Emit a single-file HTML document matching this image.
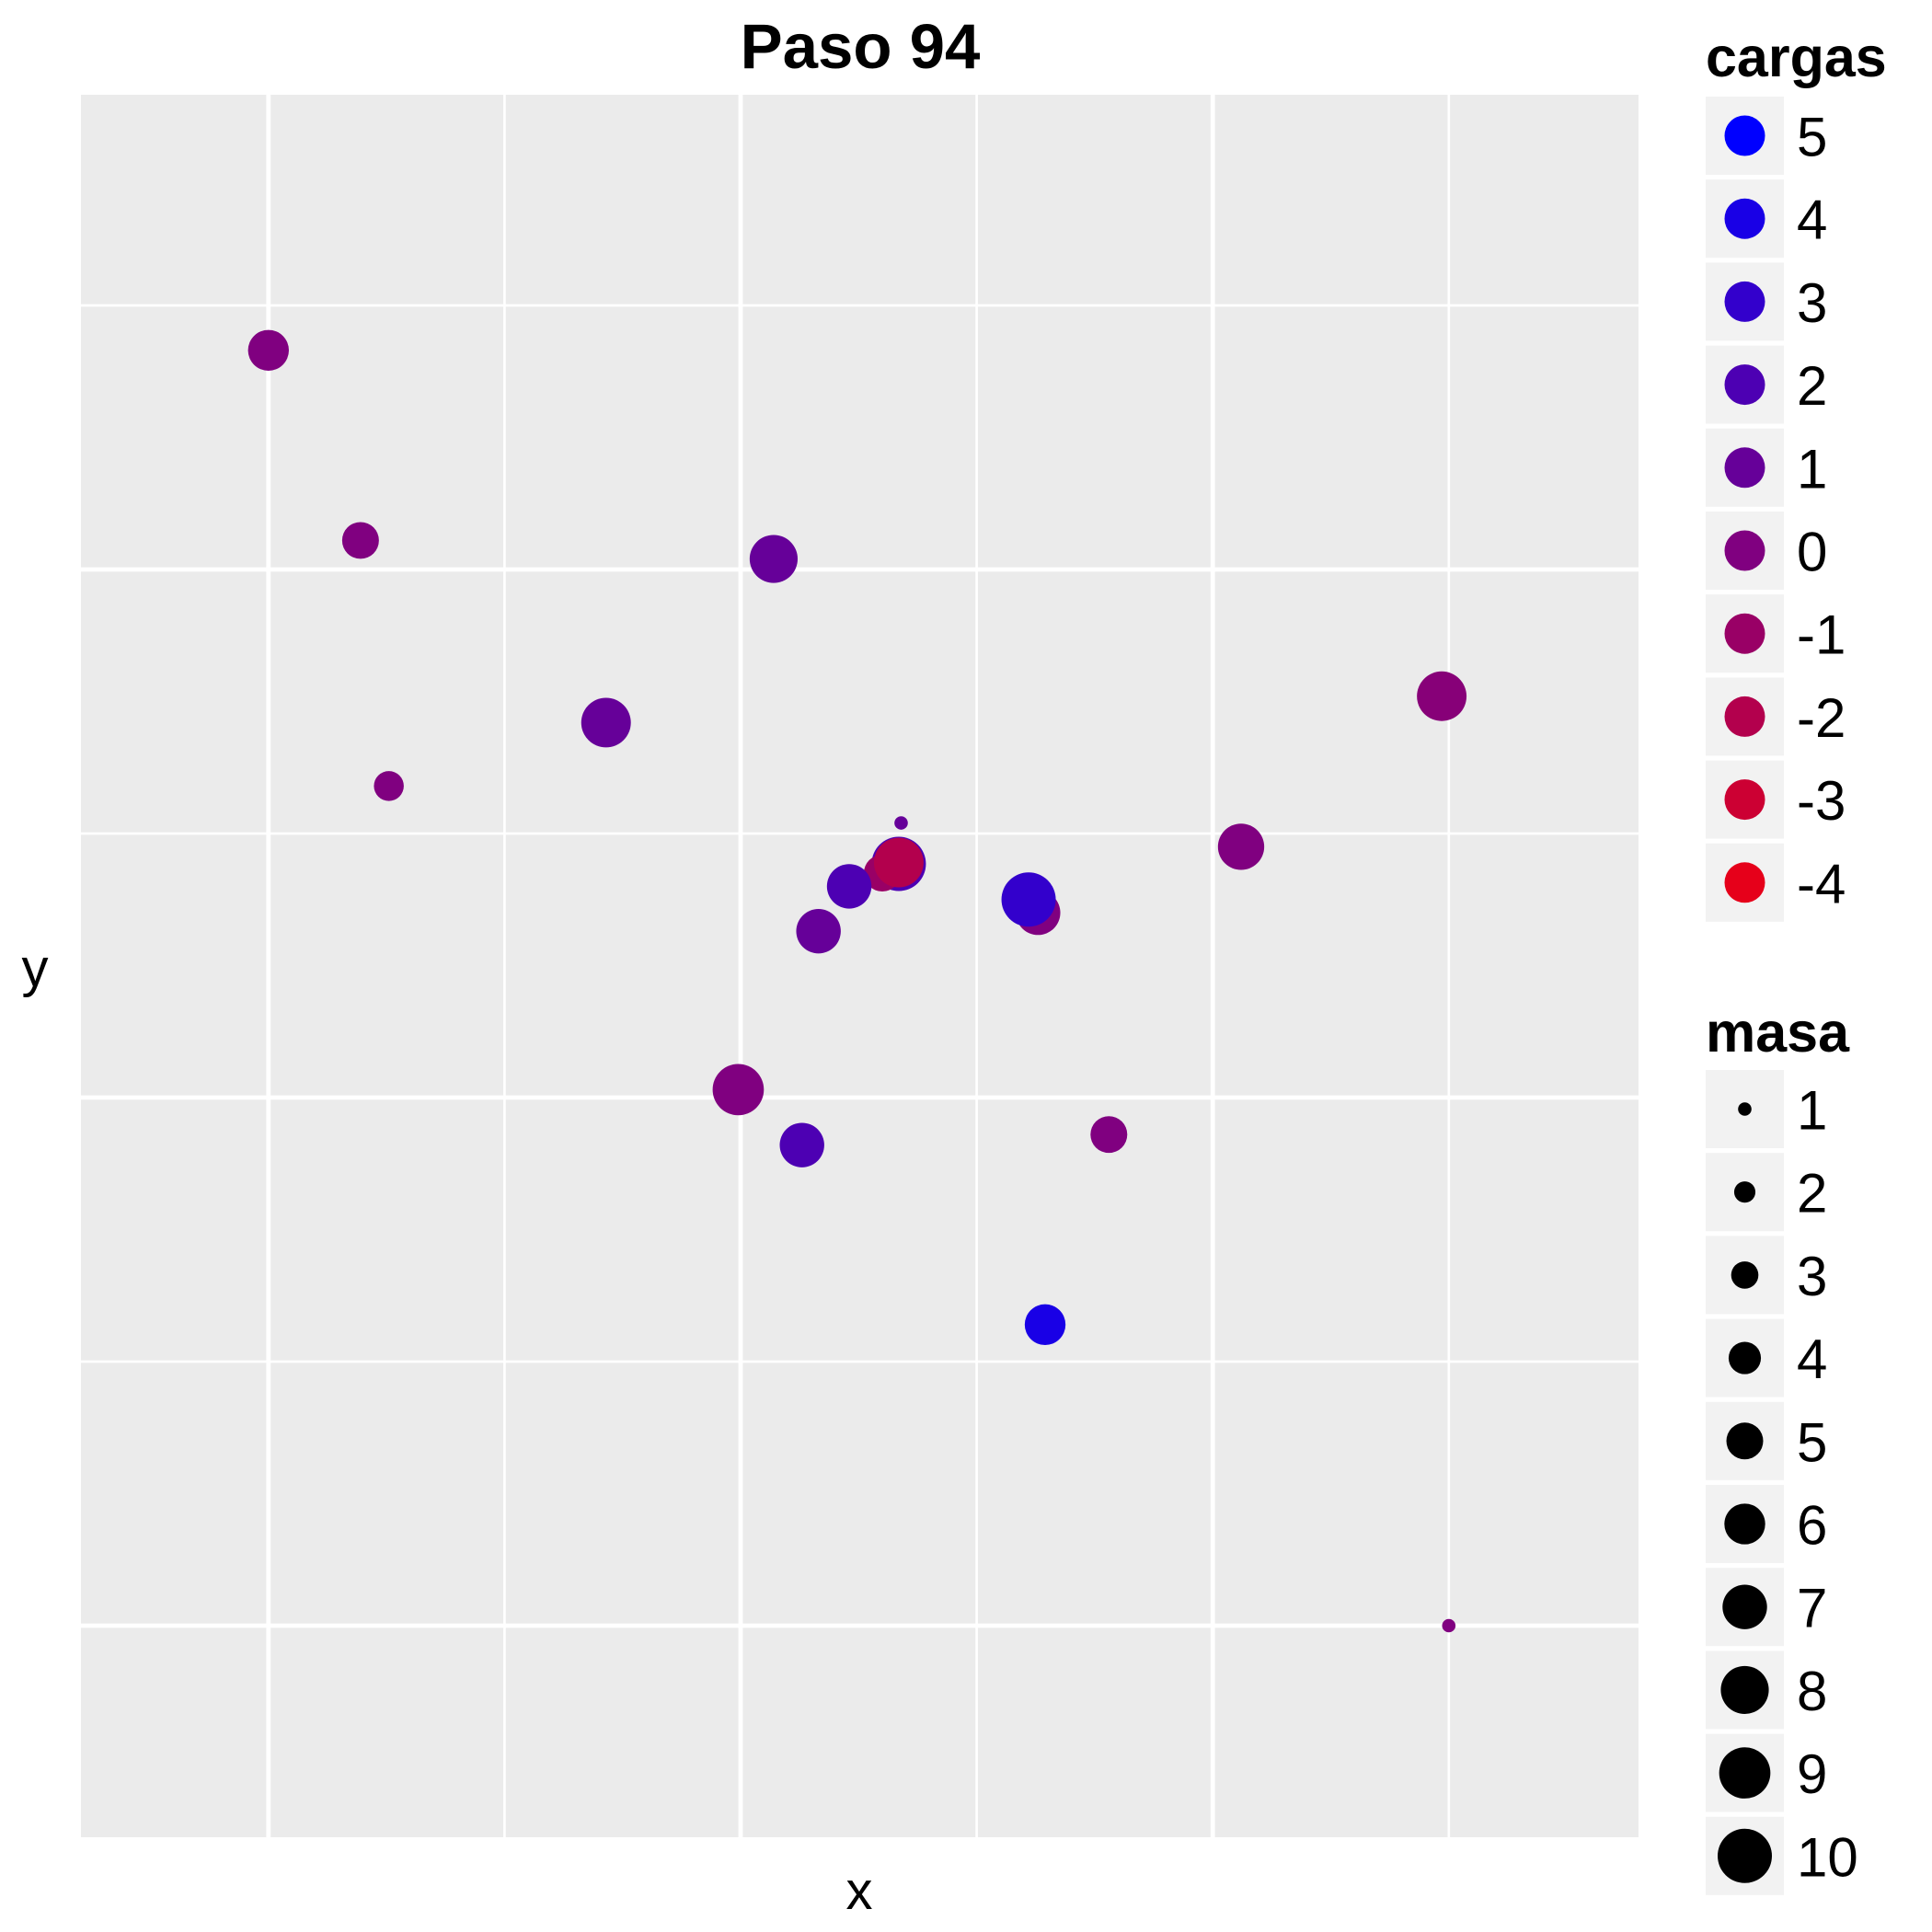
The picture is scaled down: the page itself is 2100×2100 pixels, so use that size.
<!DOCTYPE html>
<html><head><meta charset="utf-8"><style>html,body{margin:0;padding:0;background:#fff}svg{display:block}text{font-family:"Liberation Sans",sans-serif}</style></head>
<body>
<svg id="chart" width="2100" height="2100" viewBox="0 0 2100 2100" xmlns="http://www.w3.org/2000/svg">
<rect x="0" y="0" width="2100" height="2100" fill="#fff"/>
<rect x="88" y="103" width="1693" height="1894" fill="#EBEBEB"/>
<g id="grid"></g>
<g id="points"></g>
<text x="935" y="74" font-size="69" font-weight="bold" text-anchor="middle">Paso 94</text>
<text x="934" y="2075" font-size="58" text-anchor="middle">x</text>
<text x="38" y="1072" font-size="58" text-anchor="middle">y</text>
<text x="1854" y="83" font-size="61" font-weight="bold">cargas</text>
<text x="1854" y="1143" font-size="61" font-weight="bold">masa</text>
<g id="legend"></g>
</svg>
<script>
const xs = [-2.00,-1.61,-1.49,-0.57,0.14,0.68,0.67,0.60,0.67,0.46,0.33,1.26,1.22,2.12,2.97,-0.01,0.26,1.56,1.29,3.00];
const ys = [2.83,2.11,1.18,1.42,2.04,1.04,0.885,0.85,0.89,0.80,0.63,0.70,0.75,0.95,1.52,0.03,-0.18,-0.14,-0.86,-2.00];
const masas = [6,5,3.5,8.5,8,1,10,5,8.5,7,7,7,10,7.5,8.5,9,7,5,6,1];
const cargas = [0,0,0,1,1,1,2,-1,-2,2,1,0,3,0,-0.3,0,2,0,4,0];
const cargaLevels = [5,4,3,2,1,0,-1,-2,-3,-4];
const masaLevels = [1,2,3,4,5,6,7,8,9,10];
const xMajor = [-2,0,2];
const xMinor = [-1,1,3];
const yMajor = [2,0,-2];
const yMinor = [3,1,-1];

const NS = "http://www.w3.org/2000/svg";
const X = v => 805 + v * 256.6;
const Y = v => 1193 - v * 287;
const R = m => 7.3 + (Math.sqrt(m) - 1) / (Math.sqrt(10) - 1) * 22.2;
function col(c) {
  const t = (c + 5) / 10;
  const b = Math.round(255 * t), r = Math.round(255 * (1 - t));
  return `rgb(${r},0,${b})`;
}
function mk(tag, attrs, parent) {
  const e = document.createElementNS(NS, tag);
  for (const k in attrs) e.setAttribute(k, attrs[k]);
  parent.appendChild(e);
  return e;
}
const grid = document.getElementById('grid');
xMinor.forEach(v => { const l = mk('line', {x1: X(v), x2: X(v), y1: 103, y2: 1997, stroke: '#fff', 'stroke-width': 2.7}, grid);
  
   });
yMinor.forEach(v => { const l = mk('line', {x1: 88, x2: 1781, y1: Y(v), y2: Y(v), stroke: '#fff', 'stroke-width': 2.7}, grid);
  
   });
xMajor.forEach(v => { const l = mk('line', {x1: X(v), x2: X(v), y1: 103, y2: 1997, stroke: '#fff', 'stroke-width': 4.8}, grid);
  
   });
yMajor.forEach(v => { const l = mk('line', {x1: 88, x2: 1781, y1: Y(v), y2: Y(v), stroke: '#fff', 'stroke-width': 4.8}, grid);
  
   });

const pts = document.getElementById('points');
xs.forEach((x, i) => {
  const c = mk('circle', {cx: X(x), cy: Y(ys[i]), r: R(masas[i]), fill: col(cargas[i])}, pts);
  
  
});

const lg = document.getElementById('legend');
cargaLevels.forEach((c, i) => {
  const top = 105 + i * 90.2;
  const k = mk('rect', {x: 1854, y: top, width: 85, height: 85, fill: '#F2F2F2'}, lg);
  
  
  const d = mk('circle', {cx: 1896.5, cy: top + 42.5, r: 22, fill: col(c)}, lg);
  
  
  const t = mk('text', {x: 1953, y: top + 42.5 + 22, 'font-size': 60}, lg);
  t.textContent = String(c);
  
  
});
masaLevels.forEach((m, i) => {
  const top = 1163 + i * 90.2;
  const k = mk('rect', {x: 1854, y: top, width: 85, height: 85, fill: '#F2F2F2'}, lg);
  
  
  const d = mk('circle', {cx: 1896.5, cy: top + 42.5, r: R(m), fill: '#000'}, lg);
  
  
  const t = mk('text', {x: 1953, y: top + 42.5 + 22, 'font-size': 60}, lg);
  t.textContent = String(m);
  
  
});
</script>
</body></html>
